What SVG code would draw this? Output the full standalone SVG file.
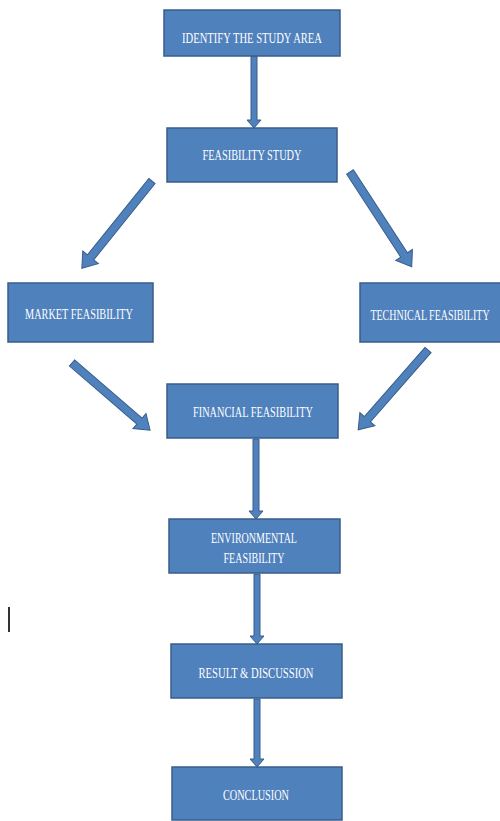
<svg xmlns="http://www.w3.org/2000/svg" width="500" height="821" viewBox="0 0 500 821">
<style>
.box{fill:#4F81BD;stroke:#385D8A;stroke-width:1.5}
.arr{fill:#4F81BD;stroke:#385D8A;stroke-width:1}
.t{fill:#FFFFFF;font-family:"Liberation Serif","Times New Roman",serif;font-size:14.5px;text-anchor:middle;dominant-baseline:central}
</style>
<rect width="500" height="821" fill="#FFFFFF"/>
<g id="connectors">
<g transform="translate(254,56) rotate(90)"><polygon class="arr" points="0,-3 64,-3 64,-7 72,0 64,7 64,3 0,3"/></g>
<g transform="translate(152,181) rotate(128.8)"><polygon class="arr" points="0,-4 98,-4 98,-10 112,0 98,10 98,4 0,4"/></g>
<g transform="translate(350,172) rotate(56.9)"><polygon class="arr" points="0,-4 99,-4 99,-10 113,0 99,10 99,4 0,4"/></g>
<g transform="translate(72,363) rotate(40.7)"><polygon class="arr" points="0,-4 89,-4 89,-10 103,0 89,10 89,4 0,4"/></g>
<g transform="translate(428,350) rotate(131.2)"><polygon class="arr" points="0,-4 92,-4 92,-10 106,0 92,10 92,4 0,4"/></g>
<g transform="translate(256,439) rotate(90)"><polygon class="arr" points="0,-3 72,-3 72,-7 80,0 72,7 72,3 0,3"/></g>
<g transform="translate(257,574) rotate(90)"><polygon class="arr" points="0,-3 62,-3 62,-7 70,0 62,7 62,3 0,3"/></g>
<g transform="translate(257,699) rotate(90)"><polygon class="arr" points="0,-3 60,-3 60,-7 68,0 60,7 60,3 0,3"/></g>
</g>
<g id="identify"><rect class="box" x="164" y="10" width="176" height="46"/><text class="t" x="252" y="38" textLength="140" lengthAdjust="spacingAndGlyphs">IDENTIFY  THE STUDY AREA</text></g>
<g id="feasibility"><rect class="box" x="167" y="128" width="170" height="54"/><text class="t" x="252" y="155" textLength="99" lengthAdjust="spacingAndGlyphs">FEASIBILITY STUDY</text></g>
<g id="market"><rect class="box" x="8" y="283" width="145" height="59"/><text class="t" x="79" y="314" textLength="108" lengthAdjust="spacingAndGlyphs">MARKET FEASIBILITY</text></g>
<g id="technical"><rect class="box" x="360" y="283" width="141" height="59"/><text class="t" transform="translate(430,315) scale(0.69,1)">TECHNICAL  FEASIBILITY</text></g>
<g id="financial"><rect class="box" x="167" y="384" width="171" height="54"/><text class="t" x="253" y="412" textLength="120" lengthAdjust="spacingAndGlyphs">FINANCIAL  FEASIBILITY</text></g>
<g id="environmental"><rect class="box" x="169" y="519" width="171" height="54"/><text class="t" x="254" y="538" textLength="86" lengthAdjust="spacingAndGlyphs">ENVIRONMENTAL</text><text class="t" x="254" y="558" textLength="61" lengthAdjust="spacingAndGlyphs">FEASIBILITY</text></g>
<g id="result"><rect class="box" x="171" y="644" width="171" height="54"/><text class="t" x="256" y="673" textLength="115" lengthAdjust="spacingAndGlyphs">RESULT &amp; DISCUSSION</text></g>
<g id="conclusion"><rect class="box" x="172" y="767" width="170" height="53"/><text class="t" x="256" y="795" textLength="66" lengthAdjust="spacingAndGlyphs">CONCLUSION</text></g>
<rect x="8" y="607" width="2" height="25" fill="#333333"/>
</svg>
